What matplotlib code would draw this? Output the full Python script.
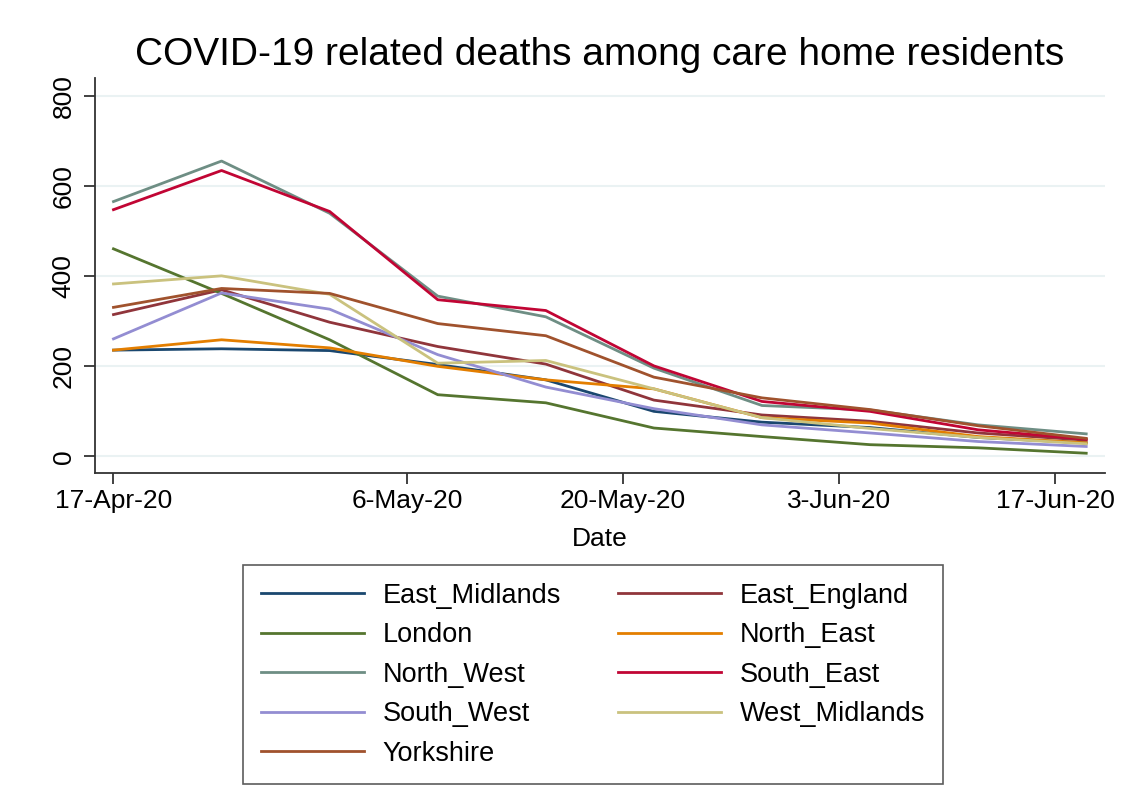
import numpy as np
import pandas as pd
import matplotlib
matplotlib.use('Agg')
import matplotlib.pyplot as plt

plt.rcParams['font.family'] = ['Liberation Sans', 'DejaVu Sans']

# weekly observations
dates = ['2020-04-17', '2020-04-24', '2020-05-01', '2020-05-08', '2020-05-15',
         '2020-05-22', '2020-05-29', '2020-06-05', '2020-06-12', '2020-06-19']

East_Midlands = [236, 239, 235, 204, 170, 100, 76, 64, 42, 30]
East_England = [315, 370, 298, 244, 205, 125, 92, 78, 52, 36]
London = [461, 362, 259, 137, 119, 63, 44, 26, 19, 7]
North_East = [236, 259, 241, 200, 170, 150, 86, 74, 44, 30]
North_West = [566, 656, 540, 356, 310, 196, 113, 103, 70, 50]
South_East = [548, 635, 544, 348, 324, 201, 122, 100, 59, 38]
South_West = [261, 363, 327, 226, 154, 106, 70, 52, 33, 22]
West_Midlands = [383, 401, 360, 207, 213, 150, 86, 62, 42, 28]
Yorkshire = [331, 373, 362, 295, 268, 176, 130, 104, 68, 40]

regions = ['East_Midlands', 'East_England', 'London', 'North_East', 'North_West',
           'South_East', 'South_West', 'West_Midlands', 'Yorkshire']
series = [East_Midlands, East_England, London, North_East, North_West,
          South_East, South_West, West_Midlands, Yorkshire]

# stata s2color palette
colors = ['#1a476f', '#90353b', '#55752f', '#e37e00', '#6e8e84',
          '#c10534', '#938dd2', '#cac27e', '#a0522d']

tick_dates = ['2020-04-17', '2020-05-06', '2020-05-20', '2020-06-03', '2020-06-17']
tick_labels = ['17-Apr-20', '6-May-20', '20-May-20', '3-Jun-20', '17-Jun-20']

x = pd.to_datetime(dates)

fig = plt.figure(figsize=(11.25, 8.1), dpi=100)
ax = fig.add_axes([0.0844, 0.416, 0.8976, 0.488])

lines = []
for name, vals, c in zip(regions, series, colors):
    l, = ax.plot(x, vals, color=c, lw=2, label=name)
    lines.append(l)

ax.set_ylim(-37, 841)
ax.set_xlim(pd.Timestamp('2020-04-17') - pd.Timedelta(days=1.2),
            pd.Timestamp('2020-04-17') + pd.Timedelta(days=64.2))
ax.set_yticks([0, 200, 400, 600, 800])
ax.set_yticklabels(['0', '200', '400', '600', '800'], rotation=90, va='center')
ax.set_xticks(pd.to_datetime(tick_dates))
ax.set_xticklabels(tick_labels)
ax.yaxis.grid(True, color='#eaf2f3', lw=1.5)
ax.set_axisbelow(True)

for s in ['top', 'right']:
    ax.spines[s].set_visible(False)
for s in ['left', 'bottom']:
    ax.spines[s].set_color('#333333')
    ax.spines[s].set_linewidth(1.3)
ax.tick_params(axis='both', labelsize=19, length=8, width=1.3, color='#333333')
ax.tick_params(axis='y', pad=6)

ax.set_xlabel('Date', fontsize=19, labelpad=10)
ax.set_title('COVID-19 related deaths among care home residents', fontsize=28, pad=9)

# stata fills legend row by row; matplotlib fills columns, so reorder
order = [0, 2, 4, 6, 8, 1, 3, 5, 7]
leg = fig.legend([lines[i] for i in order], [regions[i] for i in order],
                 loc='upper left', bbox_to_anchor=(243 / 1125, 1 - 565 / 810), ncol=2,
                 fontsize=19.5, frameon=True, fancybox=False, edgecolor='#333333',
                 handlelength=3.8, handletextpad=0.7, columnspacing=2.1,
                 labelspacing=0.5, borderpad=0.65, borderaxespad=0)
leg.get_frame().set_linewidth(1.2)

fig.savefig('out.png', dpi=100, facecolor='white')
